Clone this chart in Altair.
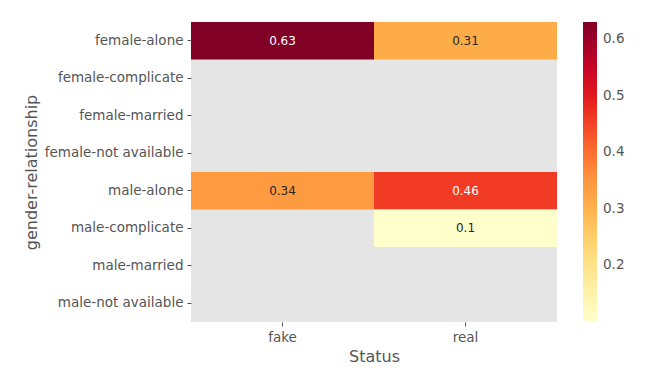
import altair as alt
import pandas as pd

rows = ["female-alone", "female-complicate", "female-married", "female-not available",
        "male-alone", "male-complicate", "male-married", "male-not available"]
cols = ["fake", "real"]

cell_rows = ["female-alone", "female-alone", "male-alone", "male-alone", "male-complicate"]
cell_cols = ["fake", "real", "fake", "real", "real"]
cell_vals = [0.63, 0.31, 0.34, 0.46, 0.10]

ylorrd = ["#ffffcc", "#ffeda0", "#fed976", "#feb24c", "#fd8d3c",
          "#fc4e2a", "#e31a1c", "#bd0026", "#800026"]

df = pd.DataFrame({"row": cell_rows, "col": cell_cols, "val": cell_vals})
df["label"] = [f"{v:g}" for v in cell_vals]
df["dark"] = [v > 0.4 for v in cell_vals]

FONT = "DejaVu Sans"
GREY = "#555555"

x = alt.X("col:N", sort=cols, title="Status", scale=alt.Scale(domain=cols, paddingInner=0, paddingOuter=0),
          axis=alt.Axis(labelAngle=0, labelFontSize=13.5, titleFontSize=16, labelPadding=4,
                        titlePadding=5, tickSize=4, domain=False, tickColor=GREY,
                        labelColor=GREY, titleColor=GREY, titleFontWeight="normal"))
y = alt.Y("row:N", sort=rows, title="gender-relationship", scale=alt.Scale(domain=rows, paddingInner=0, paddingOuter=0),
          axis=alt.Axis(labelFontSize=13.5, titleFontSize=16, labelPadding=4, titlePadding=5,
                        tickSize=4, domain=False, tickColor=GREY, labelColor=GREY,
                        titleColor=GREY, titleFontWeight="normal"))

base = alt.Chart(df)

heat = base.mark_rect().encode(
    x=x, y=y,
    color=alt.Color("val:Q", title=None,
                    scale=alt.Scale(domain=[0.1, 0.63], range=ylorrd, nice=False, zero=False),
                    legend=alt.Legend(gradientLength=300, gradientThickness=14, labelFontSize=13.5,
                                      labelColor=GREY, values=[0.2, 0.3, 0.4, 0.5, 0.6],
                                      gradientStrokeWidth=0, offset=26, labelOffset=6,
                                      labelFont=FONT)),
)

text = base.mark_text(fontSize=12, font=FONT).encode(
    x=alt.X("col:N", sort=cols), y=alt.Y("row:N", sort=rows),
    text="label:N",
    color=alt.condition("datum.dark", alt.value("#ffffff"), alt.value("#262626")),
)

chart = (heat + text).properties(
    width=366, height=300,
    padding={"top": 14, "left": 15, "right": 5, "bottom": 5},
).configure_view(fill="#e5e5e5", stroke=None).configure_axis(
    labelFont=FONT, titleFont=FONT
)

chart.save("out.html", embed_options={"renderer": "svg", "actions": False})
